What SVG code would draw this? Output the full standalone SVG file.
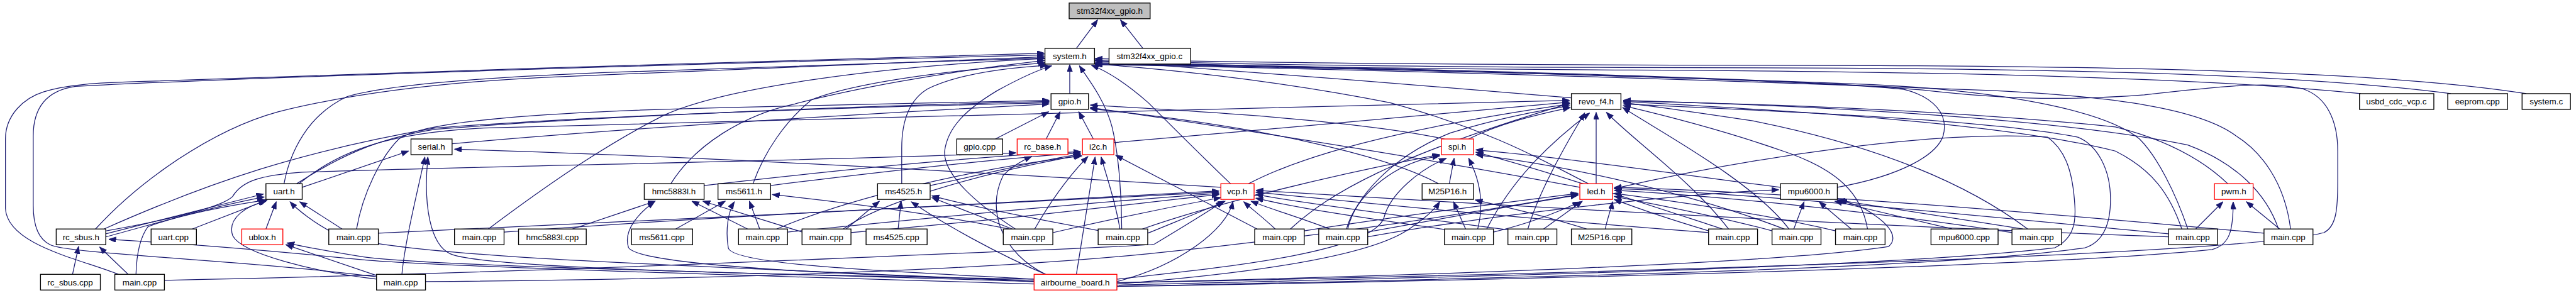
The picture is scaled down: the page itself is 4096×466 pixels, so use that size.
<svg xmlns="http://www.w3.org/2000/svg" width="4096" height="466" viewBox="0 0 4096 466">
<style>
.n rect{fill:#fff;stroke:#000;stroke-width:1.4}
.r rect{stroke:#ff0000}
.g rect{fill:#bfbfbf}
.n text{font-family:"Liberation Sans",Arial,sans-serif;font-size:14px;text-anchor:middle;fill:#000}
#edges path{fill:none;stroke:#191970;stroke-width:1.3;marker-end:url(#a)}
</style>
<defs>
<marker id="a" markerWidth="13" markerHeight="10" refX="12" refY="4.5" orient="auto" markerUnits="userSpaceOnUse"><path d="M0,0 L12,4.5 L0,9 z" fill="#191970" stroke="#191970" stroke-width="1"/></marker>
</defs>
<rect width="4096" height="466" fill="#fff"/>
<g transform="scale(0.961)">
<g id="edges">
<path d="M1781,80 L1816,33"/>
<path d="M1891,80 L1854,33"/>
<path d="M1770,155 L1770,107"/>
<path d="M2600,162 C2350,140 2050,118 1812,100"/>
<path d="M3906,155 C3650,128 3200,118 2700,116 C2300,114 2000,108 1812,101"/>
<path d="M4055,155 C3800,122 3400,112 2800,112 C2300,111 2000,106 1812,99"/>
<path d="M4180,155 C3950,118 3500,108 2900,108 C2300,107 2000,103 1812,97"/>
<path d="M196,454 C130,428 12,405 9,345 L9,230 C9,190 40,162 72,152 C110,140 160,137 230,135 C700,118 1300,100 1728,88"/>
<path d="M623,458 C400,430 110,420 83,405 C62,395 55,370 55,340 L55,225 C55,180 75,150 125,143 C400,128 1200,104 1728,91"/>
<path d="M158,379 C230,300 350,215 460,185 C560,160 700,138 900,128 C1200,115 1500,102 1728,94"/>
<path d="M470,304 C480,250 510,190 574,160 C640,140 800,128 1000,120 C1300,110 1550,102 1728,96"/>
<path d="M1110,304 C1150,240 1230,190 1315,172 C1400,150 1550,120 1728,100"/>
<path d="M1246,304 C1265,250 1300,200 1343,165 C1420,135 1580,116 1730,104"/>
<path d="M808,379 C900,310 1000,240 1100,190 C1200,145 1450,110 1728,97"/>
<path d="M1492,304 L1492,245 C1492,200 1505,165 1535,147 C1580,125 1650,113 1733,108"/>
<path d="M1680,379 C1620,340 1560,290 1563,250 C1568,210 1600,180 1650,150 C1690,128 1720,115 1740,109"/>
<path d="M1856,379 C1856,330 1852,260 1840,210 C1828,165 1800,130 1786,109"/>
<path d="M2036,304 C1990,260 1940,210 1900,170 C1860,135 1830,117 1806,108"/>
<path d="M1848,468 C2500,455 3700,425 3845,385 C3866,375 3868,345 3868,300 L3868,250 C3868,200 3850,160 3810,147 C3760,135 3700,140 3548,157 C3400,168 3300,162 3190,150 C3000,130 2300,112 1812,104"/>
<path d="M3040,310 C3150,290 3205,255 3215,225 C3225,190 3200,160 3150,148 C3000,132 2300,113 1811,105"/>
<path d="M3620,379 C3600,320 3570,260 3540,230 C3480,180 3300,150 3100,140 C2700,125 2200,112 1812,106"/>
<path d="M3790,379 C3780,300 3740,250 3700,225 C3640,180 3500,160 3300,150 C2900,135 2300,115 1812,107"/>
<path d="M2628,304 C2560,270 2480,220 2300,170 C2100,130 1900,112 1812,106"/>
<path d="M1647,230 L1735,185"/>
<path d="M1731,230 L1754,185"/>
<path d="M1809,230 L1785,185"/>
<path d="M172,379 C350,300 500,250 720,212 C1000,190 1400,178 1736,170"/>
<path d="M491,304 C560,260 620,230 720,214 C1000,192 1400,176 1736,168"/>
<path d="M590,379 C600,320 630,260 660,230 C700,200 900,185 1200,178 C1400,174 1600,170 1736,166"/>
<path d="M748,238 C1000,215 1400,190 1736,172"/>
<path d="M2390,230 C2250,200 2000,185 1804,174"/>
<path d="M2614,310 C2400,270 2100,220 1804,178"/>
<path d="M2380,304 C2300,260 2100,210 1804,180"/>
<path d="M495,304 C560,250 640,220 800,212 C1400,195 2100,180 2597,166"/>
<path d="M1843,236 C2100,215 2400,185 2597,169"/>
<path d="M2430,230 C2480,205 2540,190 2598,178"/>
<path d="M2066,304 C2150,260 2300,215 2597,172"/>
<path d="M2230,379 C2240,330 2300,260 2400,220 C2480,195 2540,185 2597,175"/>
<path d="M2135,379 C2200,320 2300,260 2597,171"/>
<path d="M2641,304 L2641,186"/>
<path d="M2528,379 C2545,320 2590,240 2622,187"/>
<path d="M2460,379 C2500,300 2560,240 2630,187"/>
<path d="M2860,379 C2800,300 2700,230 2658,186"/>
<path d="M2960,379 C2900,300 2750,220 2685,178"/>
<path d="M3090,379 C3080,320 3040,280 2950,250 C2850,215 2750,190 2686,175"/>
<path d="M3355,379 C3250,300 3100,240 2900,200 C2800,185 2730,175 2686,170"/>
<path d="M3610,379 C3590,320 3560,280 3500,250 C3300,200 2900,180 2686,168"/>
<path d="M3770,379 C3750,320 3700,270 3620,240 C3400,195 3000,175 2686,166"/>
<path d="M3686,304 C3640,260 3580,230 3500,210 C3200,180 2900,172 2686,167"/>
<path d="M1848,474 C2400,462 3200,448 3450,410 C3480,400 3492,370 3492,330 C3492,280 3470,240 3438,227 C3300,200 3000,186 2686,172"/>
<path d="M1848,472 C2400,458 3100,445 3400,410 C3430,395 3435,370 3433,340 C3430,290 3420,250 3388,227 C3200,215 2900,260 2671,312"/>
<path d="M500,310 L676,250"/>
<path d="M665,454 C670,400 690,320 703,260"/>
<path d="M2020,310 C1700,290 1200,260 752,247"/>
<path d="M1711,462 C1300,455 800,445 745,420 C712,405 700,340 708,260"/>
<path d="M176,382 C300,360 370,340 385,325 C400,300 430,290 500,285 C800,275 1400,265 1681,253"/>
<path d="M1730,454 C1660,420 1630,350 1660,290 C1680,270 1700,262 1707,259"/>
<path d="M1165,307 C1400,280 1600,260 1788,251"/>
<path d="M1275,307 C1450,285 1650,263 1788,253"/>
<path d="M1539,307 C1620,290 1720,265 1788,255"/>
<path d="M1712,379 C1740,330 1770,290 1800,259"/>
<path d="M1781,454 L1812,260"/>
<path d="M1853,379 C1845,330 1830,290 1822,260"/>
<path d="M2080,379 L1846,257"/>
<path d="M1395,379 C1450,340 1600,290 1788,257"/>
<path d="M1285,379 C1400,330 1600,280 1790,258"/>
<path d="M2398,304 L2406,262"/>
<path d="M2946,310 C2750,285 2600,262 2442,248"/>
<path d="M2228,379 C2240,330 2300,270 2382,258"/>
<path d="M2445,379 C2455,340 2450,300 2430,262"/>
<path d="M1848,462 C2000,445 2270,420 2290,360 C2300,320 2350,280 2393,262"/>
<path d="M2850,379 C2700,330 2550,280 2442,252"/>
<path d="M2960,382 C2800,320 2600,275 2442,256"/>
<path d="M1890,379 C2000,340 2200,290 2382,256"/>
<path d="M175,387 L436,321"/>
<path d="M175,392 C250,372 350,342 437,326"/>
<path d="M225,454 C226,420 232,392 245,375 C300,355 380,340 440,331"/>
<path d="M318,379 L442,331"/>
<path d="M440,379 L457,334"/>
<path d="M566,379 L496,334"/>
<path d="M623,462 C520,450 400,420 385,390 C375,360 410,340 440,333"/>
<path d="M1711,466 C1200,440 700,430 560,390 C520,370 490,345 480,334"/>
<path d="M947,379 L1084,333"/>
<path d="M1711,464 C1400,455 1060,440 1040,410 C1030,380 1060,350 1083,334"/>
<path d="M1237,379 L1145,333"/>
<path d="M1327,384 L1163,333"/>
<path d="M1118,379 L1200,333"/>
<path d="M1711,462 C1500,450 1210,440 1205,410 C1200,380 1205,350 1215,334"/>
<path d="M1257,379 L1240,333"/>
<path d="M1670,379 C1550,355 1400,335 1278,322"/>
<path d="M1486,379 L1491,333"/>
<path d="M1730,454 C1650,420 1560,370 1508,334"/>
<path d="M1675,379 L1542,327"/>
<path d="M1820,382 C1700,360 1600,340 1542,324"/>
<path d="M1400,379 L1455,333"/>
<path d="M834,384 C1300,350 1700,335 2017,318"/>
<path d="M1303,384 C1600,355 1800,335 2017,320"/>
<path d="M1408,385 C1700,360 1850,340 2017,322"/>
<path d="M1742,385 C1850,360 1950,340 2020,327"/>
<path d="M1899,386 C1950,365 2000,345 2027,333"/>
<path d="M2110,379 C2090,360 2070,345 2058,334"/>
<path d="M2200,379 C2150,360 2100,345 2070,333"/>
<path d="M272,464 C700,455 1100,440 1400,427 C1700,414 1890,408 1910,404 C1950,380 2000,350 2024,333"/>
<path d="M626,386 C1000,370 1600,340 2017,316"/>
<path d="M704,466 C1300,462 1700,440 1900,420 C2200,390 2450,350 2611,322"/>
<path d="M2400,381 C2250,360 2150,345 2078,328"/>
<path d="M2500,381 C2300,355 2150,335 2078,322"/>
<path d="M2827,385 C2500,360 2250,335 2078,318"/>
<path d="M3588,392 C3000,370 2400,335 2078,315"/>
<path d="M1848,466 C1950,440 2030,380 2040,334"/>
<path d="M2625,379 C2550,355 2480,340 2441,331"/>
<path d="M2425,379 L2405,334"/>
<path d="M1848,470 C2100,450 2270,420 2330,380 C2360,360 2375,345 2382,334"/>
<path d="M2554,379 L2618,333"/>
<path d="M2656,379 C2660,360 2666,345 2668,334"/>
<path d="M2158,382 C2300,360 2450,340 2611,320"/>
<path d="M2263,384 C2400,360 2500,340 2611,323"/>
<path d="M2471,384 C2530,370 2580,350 2614,334"/>
<path d="M2827,382 C2770,365 2710,345 2671,330"/>
<path d="M2932,382 C2850,360 2750,340 2671,325"/>
<path d="M3037,382 C2900,350 2750,330 2671,320"/>
<path d="M3329,385 C3100,350 2850,325 2671,315"/>
<path d="M3588,387 C3200,350 2900,320 2671,312"/>
<path d="M3746,386 C3300,345 2950,318 2671,310"/>
<path d="M3230,379 L3036,333"/>
<path d="M2968,379 L2985,334"/>
<path d="M3063,379 L3010,334"/>
<path d="M3347,379 L3040,331"/>
<path d="M1848,468 C2400,455 2950,435 3125,408 C3140,395 3130,375 3100,355 C3080,340 3060,335 3044,332"/>
<path d="M2263,392 C2500,350 2800,320 2943,314"/>
<path d="M3633,379 L3678,334"/>
<path d="M3772,379 L3717,334"/>
<path d="M1848,474 C2600,462 3400,440 3660,413 C3690,405 3695,380 3695,334"/>
<path d="M120,454 L130,408"/>
<path d="M212,454 L165,409"/>
<path d="M1711,470 C1200,455 700,440 600,430 C400,410 250,400 180,396"/>
<path d="M623,456 L473,405"/>
<path d="M1711,466 C1200,450 700,440 600,425 C540,415 500,408 475,402"/>
</g>
<g id="n_stm" class="n g"><rect x="1769" y="5" width="134" height="26"/><text x="1836" y="23">stm32f4xx_gpio.h</text></g>
<g id="n_sys" class="n"><rect x="1729" y="80" width="82" height="26"/><text x="1770" y="98">system.h</text></g>
<g id="n_stmc" class="n"><rect x="1835" y="80" width="135" height="26"/><text x="1902" y="98">stm32f4xx_gpio.c</text></g>
<g id="n_gpio" class="n"><rect x="1739" y="155" width="62" height="26"/><text x="1770" y="173">gpio.h</text></g>
<g id="n_revo" class="n"><rect x="2600" y="155" width="82" height="26"/><text x="2641" y="173">revo_f4.h</text></g>
<g id="n_usbd" class="n"><rect x="3904" y="155" width="123" height="26"/><text x="3965" y="173">usbd_cdc_vcp.c</text></g>
<g id="n_eeprom" class="n"><rect x="4050" y="155" width="99" height="26"/><text x="4099" y="173">eeprom.cpp</text></g>
<g id="n_sysc" class="n"><rect x="4173" y="155" width="80" height="26"/><text x="4213" y="173">system.c</text></g>
<g id="n_serial" class="n"><rect x="680" y="230" width="68" height="26"/><text x="714" y="248">serial.h</text></g>
<g id="n_gpiocpp" class="n"><rect x="1583" y="230" width="76" height="26"/><text x="1621" y="248">gpio.cpp</text></g>
<g id="n_rcbase" class="n r"><rect x="1683" y="230" width="84" height="26"/><text x="1725" y="248">rc_base.h</text></g>
<g id="n_i2c" class="n r"><rect x="1791" y="230" width="52" height="26"/><text x="1817" y="248">i2c.h</text></g>
<g id="n_spi" class="n r"><rect x="2385" y="230" width="53" height="26"/><text x="2411" y="248">spi.h</text></g>
<g id="n_uart" class="n"><rect x="440" y="304" width="60" height="26"/><text x="470" y="322">uart.h</text></g>
<g id="n_hmc" class="n"><rect x="1066" y="304" width="99" height="26"/><text x="1115" y="322">hmc5883l.h</text></g>
<g id="n_ms5611" class="n"><rect x="1188" y="304" width="87" height="26"/><text x="1231" y="322">ms5611.h</text></g>
<g id="n_ms4525" class="n"><rect x="1452" y="304" width="87" height="26"/><text x="1495" y="322">ms4525.h</text></g>
<g id="n_vcp" class="n r"><rect x="2020" y="304" width="55" height="26"/><text x="2047" y="322">vcp.h</text></g>
<g id="n_m25" class="n"><rect x="2353" y="304" width="85" height="26"/><text x="2395" y="322">M25P16.h</text></g>
<g id="n_led" class="n r"><rect x="2614" y="304" width="54" height="26"/><text x="2641" y="322">led.h</text></g>
<g id="n_mpu" class="n"><rect x="2946" y="304" width="94" height="26"/><text x="2993" y="322">mpu6000.h</text></g>
<g id="n_pwm" class="n r"><rect x="3664" y="304" width="64" height="26"/><text x="3696" y="322">pwm.h</text></g>
<g id="n_rcsbus" class="n"><rect x="93" y="379" width="82" height="26"/><text x="134" y="397">rc_sbus.h</text></g>
<g id="n_uartcpp" class="n"><rect x="250" y="379" width="75" height="26"/><text x="287" y="397">uart.cpp</text></g>
<g id="n_ublox" class="n r"><rect x="400" y="379" width="68" height="26"/><text x="434" y="397">ublox.h</text></g>
<g id="n_mA" class="n"><rect x="544" y="379" width="82" height="26"/><text x="585" y="397">main.cpp</text></g>
<g id="n_mB" class="n"><rect x="752" y="379" width="82" height="26"/><text x="793" y="397">main.cpp</text></g>
<g id="n_hmccpp" class="n"><rect x="858" y="379" width="112" height="26"/><text x="914" y="397">hmc5883l.cpp</text></g>
<g id="n_ms5611cpp" class="n"><rect x="1045" y="379" width="101" height="26"/><text x="1095" y="397">ms5611.cpp</text></g>
<g id="n_mC" class="n"><rect x="1222" y="379" width="81" height="26"/><text x="1262" y="397">main.cpp</text></g>
<g id="n_mD" class="n"><rect x="1327" y="379" width="81" height="26"/><text x="1367" y="397">main.cpp</text></g>
<g id="n_ms4525cpp" class="n"><rect x="1433" y="379" width="101" height="26"/><text x="1483" y="397">ms4525.cpp</text></g>
<g id="n_mE" class="n"><rect x="1660" y="379" width="82" height="26"/><text x="1701" y="397">main.cpp</text></g>
<g id="n_mF" class="n"><rect x="1817" y="379" width="82" height="26"/><text x="1858" y="397">main.cpp</text></g>
<g id="n_mG" class="n"><rect x="2076" y="379" width="82" height="26"/><text x="2117" y="397">main.cpp</text></g>
<g id="n_mH" class="n"><rect x="2182" y="379" width="81" height="26"/><text x="2222" y="397">main.cpp</text></g>
<g id="n_mI" class="n"><rect x="2390" y="379" width="81" height="26"/><text x="2430" y="397">main.cpp</text></g>
<g id="n_mJ" class="n"><rect x="2495" y="379" width="81" height="26"/><text x="2535" y="397">main.cpp</text></g>
<g id="n_m25cpp" class="n"><rect x="2600" y="379" width="100" height="26"/><text x="2650" y="397">M25P16.cpp</text></g>
<g id="n_mK" class="n"><rect x="2827" y="379" width="81" height="26"/><text x="2867" y="397">main.cpp</text></g>
<g id="n_mL" class="n"><rect x="2932" y="379" width="81" height="26"/><text x="2972" y="397">main.cpp</text></g>
<g id="n_mM" class="n"><rect x="3037" y="379" width="82" height="26"/><text x="3078" y="397">main.cpp</text></g>
<g id="n_mpucpp" class="n"><rect x="3195" y="379" width="111" height="26"/><text x="3250" y="397">mpu6000.cpp</text></g>
<g id="n_mN" class="n"><rect x="3329" y="379" width="82" height="26"/><text x="3370" y="397">main.cpp</text></g>
<g id="n_mO" class="n"><rect x="3588" y="379" width="81" height="26"/><text x="3628" y="397">main.cpp</text></g>
<g id="n_mP" class="n"><rect x="3746" y="379" width="81" height="26"/><text x="3786" y="397">main.cpp</text></g>
<g id="n_rcsbuscpp" class="n"><rect x="67" y="454" width="99" height="26"/><text x="116" y="472">rc_sbus.cpp</text></g>
<g id="n_mQ" class="n"><rect x="190" y="454" width="82" height="26"/><text x="231" y="472">main.cpp</text></g>
<g id="n_mR" class="n"><rect x="623" y="454" width="81" height="26"/><text x="663" y="472">main.cpp</text></g>
<g id="n_air" class="n r"><rect x="1711" y="454" width="137" height="26"/><text x="1779" y="472">airbourne_board.h</text></g>
</g>
</svg>
